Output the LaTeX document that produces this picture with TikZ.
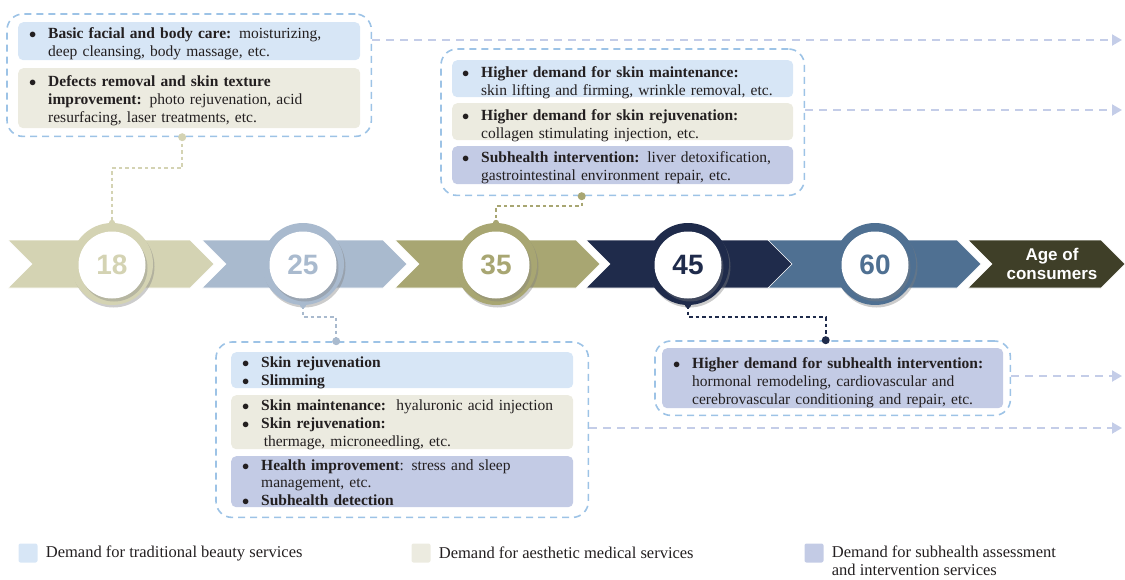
\documentclass[tikz,border=0pt]{standalone}
\usepackage{fontspec}
\setmainfont{Liberation Serif}
\newfontfamily\numfont{Liberation Sans}
\usetikzlibrary{positioning,fit,shadows,arrows.meta}

\definecolor{c18}{HTML}{D4D3B3}
\definecolor{c25}{HTML}{A9BACE}
\definecolor{c35}{HTML}{A8A672}
\definecolor{c45}{HTML}{1F2B4B}
\definecolor{c60}{HTML}{4F7092}
\definecolor{cage}{HTML}{3F3F28}
\definecolor{tradblue}{HTML}{D7E6F6}
\definecolor{aesthbeige}{HTML}{ECEBE0}
\definecolor{subpurple}{HTML}{C3CBE5}
\definecolor{framecol}{HTML}{9DC3E6}
\definecolor{arrowcol}{HTML}{C4CDE8}
\definecolor{ink}{HTML}{231F20}

\newcommand\bodyfont{\fontsize{15.5}{18}\selectfont}
\newcommand\bul{$\bullet$}
\newenvironment{blist}{\noindent\begin{tabular}[t]{@{}p{19pt}@{}l@{}}}{\end{tabular}}

\tikzset{
  itembox/.style={anchor=north west, fill=#1, rounded corners=5pt, inner xsep=11pt,
    inner ysep=0pt, text width=320pt, align=left, font=\bodyfont, text=ink},
  frame/.style={draw=framecol, line width=1.6pt, dash pattern=on 7pt off 5pt,
    rounded corners=16pt, inner sep=8pt},
  ring/.style={circle, fill=#1, minimum size=82pt, inner sep=0pt,
    drop shadow={shadow xshift=1.5pt, shadow yshift=-2.5pt, opacity=0.4}},
  disc/.style={circle, fill=white, minimum size=67pt, inner sep=0pt,
    font=\numfont\bfseries\fontsize{28}{28}\selectfont,
    drop shadow={shadow xshift=2pt, shadow yshift=-3pt, opacity=0.35}},
  link/.style={draw=#1, line width=2pt, dash pattern=on 3.5pt off 3pt},
  flow/.style={draw=arrowcol, line width=2pt, dash pattern=on 8pt off 6pt,
    -{Triangle[length=10pt,width=11pt]}},
  legkey/.style={rectangle, fill=#1, rounded corners=2pt, minimum size=19pt, inner sep=0pt},
  legtext/.style={font=\fontsize{16.5}{18}\selectfont, text=ink, inner sep=0pt}
}

\begin{document}
\begin{tikzpicture}[x=1pt,y=-1pt]
\useasboundingbox (0,0) rectangle (1125,579);

% chevron band
\foreach \s/\e/\c in {8/214/c18, 202/407/c25, 395/600/c35, 586/793/c45, 768/981/c60, 968/1125/cage}
  \fill[\c, draw=white, line width=0.6pt] (\s,240) -- (\e-24,240) -- (\e,264) -- (\e-24,288) -- (\s,288) -- (\s+24,264) -- cycle;
\node[font=\numfont\bfseries\fontsize{17}{19}\selectfont, text=white, align=center] (agelabel) at (1052,264) {Age of\\consumers};

% age circles
\foreach \a/\x/\c in {18/112/c18, 25/303/c25, 35/496/c35, 45/688/c45, 60/875/c60} {
  \node[ring=\c] (ring\a) at (\x,264) {};
  \node[disc, text=\c] (age\a) at (\x,265) {\a};
}

% group for 18
\node[itembox=tradblue, text height=16pt, text depth=22pt] (a1) at (18,22) {\begin{blist}
  \bul & \textbf{Basic facial and body care:} moisturizing,\\
  & deep cleansing, body massage, etc.\end{blist}};
\node[itembox=aesthbeige, text height=18pt, text depth=42pt] (a2) at (18,68) {\begin{blist}
  \bul & \textbf{Defects removal and skin texture}\\
  & \textbf{improvement:} photo rejuvenation, acid\\
  & resurfacing, laser treatments, etc.\end{blist}};
\node[frame, fit=(a1)(a2), inner xsep=11pt] (frameA) {};

% group for 35
\node[itembox=tradblue, text height=17pt, text depth=20pt, inner xsep=10pt, text width=321pt] (b1) at (452,60) {\begin{blist}
  \bul & \textbf{Higher demand for skin maintenance:}\\
  & skin lifting and firming, wrinkle removal, etc.\end{blist}};
\node[itembox=aesthbeige, text height=17pt, text depth=20pt, inner xsep=10pt, text width=321pt] (b2) at (452,103) {\begin{blist}
  \bul & \textbf{Higher demand for skin rejuvenation:}\\
  & collagen stimulating injection, etc.\end{blist}};
\node[itembox=subpurple, text height=16pt, text depth=22pt, inner xsep=10pt, text width=321pt] (b3) at (452,146) {\begin{blist}
  \bul & \textbf{Subhealth intervention:} liver detoxification,\\
  & gastrointestinal environment repair, etc.\end{blist}};
\node[frame, fit=(b1)(b3), inner xsep=11pt, inner ysep=11pt] (frameB) {};

% group for 25
\node[itembox=tradblue, text height=15pt, text depth=21pt] (c1) at (231,352) {\begin{blist}
  \bul & \textbf{Skin rejuvenation}\\
  \bul & \textbf{Slimming}\end{blist}};
\node[itembox=aesthbeige, text height=15pt, text depth=39pt] (c2) at (231,395) {\begin{blist}
  \bul & \textbf{Skin maintenance:}\ \ hyaluronic acid injection\\
  \bul & \textbf{Skin rejuvenation:}\\
  & \,thermage, microneedling, etc.\end{blist}};
\node[itembox=subpurple, text height=14pt, text depth=37pt, font=\fontsize{15.5}{17.5}\selectfont] (c3) at (231,456) {\begin{blist}
  \bul & \textbf{Health improvement}: stress and sleep\\
  & management, etc.\\
  \bul & \textbf{Subhealth detection}\end{blist}};
\node[frame, fit=(c1)(c3), inner xsep=15pt, inner ysep=10pt] (frameC) {};

% group for 45
\node[itembox=subpurple, text height=20pt, text depth=40pt, text width=319pt] (d1) at (662,348) {\begin{blist}
  \bul & \textbf{Higher demand for subhealth intervention:}\\
  & hormonal remodeling, cardiovascular and\\
  & cerebrovascular conditioning and repair, etc.\end{blist}};
\node[frame, fit=(d1), inner sep=7pt] (frameD) {};

% connectors to the age circles
\coordinate (topA) at ([xshift=-7pt]frameA.south);
\draw[link=c18] (topA) -- ++(0,31) -| (ring18.north);
\fill[c18] (topA) circle (4) (ring18.north) circle (3);

\coordinate (topB) at ([xshift=-41pt]frameB.south);
\draw[link=c35] (topB) -- ++(0,10) -| (ring35.north);
\fill[c35] (topB) circle (4) (ring35.north) circle (3);

\coordinate (topC) at ([xshift=-66pt]frameC.north);
\draw[link=c25] (ring25.south) -- ++(0,12) -| (topC);
\fill[c25] (topC) circle (4) (ring25.south) circle (3);

\coordinate (topD) at ([xshift=-7pt]frameD.north);
\draw[link=c45] (ring45.south) -- ++(0,12) -| (topD);
\fill[c45] (topD) circle (4) (ring45.south) circle (3);

% flows to the right
\draw[flow] (frameA.east |- 0,40) -- (1122,40);
\draw[flow] (frameB.east |- 0,110) -- (1122,110);
\draw[flow] (frameD.east |- 0,376) -- (1122,376);
\draw[flow] (frameC.east |- 0,428) -- (1122,428);

% legend
\node[legkey=tradblue] (key1) at (28,553) {};
\node[legtext, right=8pt of key1] (leg1) {Demand for traditional beauty services};
\node[legkey=aesthbeige] (key2) at (421,553) {};
\node[legtext, right=8pt of key2] (leg2) {Demand for aesthetic medical services};
\node[legkey=subpurple] (key3) at (814,553) {};
\node[legtext, anchor=north west, align=left] (leg3) at ([xshift=8pt,yshift=-2pt]key3.north east)
  {Demand for subhealth assessment\\and intervention services};
\end{tikzpicture}
\end{document}
